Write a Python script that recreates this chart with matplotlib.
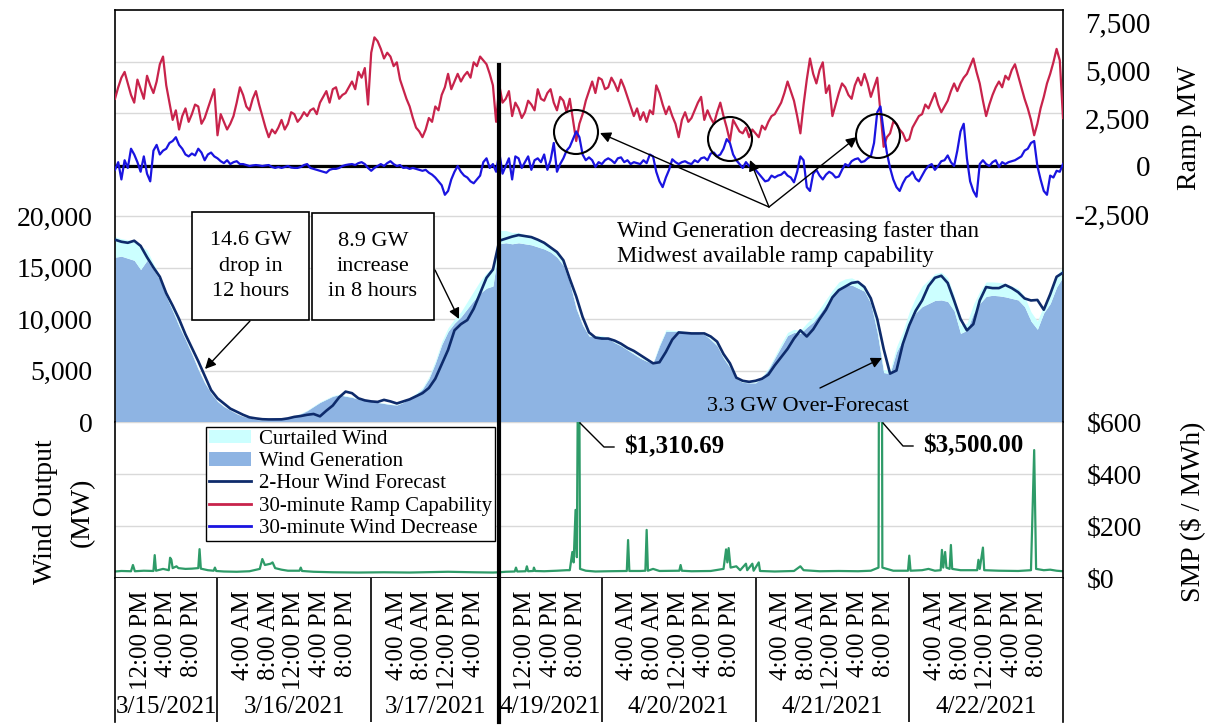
import numpy as np
import matplotlib
matplotlib.use("Agg")
import matplotlib.pyplot as plt
from matplotlib.lines import Line2D
from matplotlib.patches import Patch, Rectangle, Ellipse, FancyArrowPatch
from matplotlib.transforms import IdentityTransform, blended_transform_factory

plt.rcParams['font.family'] = ['Liberation Serif', 'DejaVu Serif']

# ---------------- data ----------------
# hourly index 0..59  : 3/15 08:00 .. 3/17 19:00
# hourly index 60..148: 4/19 08:00 .. 4/23 00:00
wind_gen_mar = [16000, 16100, 15900, 15700, 14800, 15700, 14800, 13800, 12200, 10800,
                9300, 8000, 6600, 5100, 3800, 2800, 2000, 1500, 1150, 800,
                550, 400, 250, 200, 220, 260, 300, 450, 600, 800,
                1100, 1500, 1900, 2200, 2500, 2650, 2500, 2400, 2200, 2100,
                2000, 1900, 1800, 1700, 1650, 1900, 2300, 2700, 3200, 4200,
                5700, 7500, 8800, 9600, 10200, 11000, 11800, 12500, 13000, 13200]
wind_gen_apr = [17300, 17400, 17300, 17400, 17300, 17200, 17000, 16800, 16500, 16000,
                15200, 13500, 11000, 9400, 8350, 8280, 8300, 8100, 7700, 7400,
                7000, 6600, 6200, 5900, 5700, 7400, 8800, 8800, 8770, 8700,
                8650, 8600, 8500, 8000, 7400, 6200, 5300, 4200, 3850, 3800,
                3800, 4300, 5100, 6200, 7300, 8400, 8700, 8600, 9200, 9700,
                10500, 11400, 12200, 12900, 13200, 13300, 13000, 12700, 11500, 8700,
                4800, 4700, 6800, 8000, 9500, 10600, 11200, 11500, 11800, 11850,
                11700, 10800, 8600, 8900, 10500, 11500, 12200, 12300, 12250, 12150,
                12000, 11850, 11200, 9800, 9000, 10600, 11500, 13100, 14100]

curtailed_mar = [2000, 1700, 1800, 1800, 2300, 1000, 600, 400, 300, 200,
                 150, 100, 100, 100, 80, 60, 50, 40, 30, 20,
                 20, 20, 20, 20, 20, 20, 20, 20, 30, 40,
                 50, 60, 60, 60, 60, 60, 60, 50, 50, 50,
                 50, 50, 50, 50, 50, 60, 80, 100, 150, 200,
                 250, 300, 350, 400, 500, 700, 900, 1200, 1500, 1800]
curtailed_apr = [1300, 1200, 1100, 1000, 900, 900, 800, 700, 500, 400,
                 300, 200, 150, 100, 100, 100, 100, 100, 100, 100,
                 100, 100, 100, 100, 100, 150, 150, 100, 100, 100,
                 100, 100, 100, 100, 150, 150, 100, 100, 100, 100,
                 100, 100, 150, 200, 300, 300, 300, 300, 400, 500,
                 500, 500, 600, 700, 700, 700, 700, 600, 500, 400,
                 300, 300, 500, 800, 1200, 1500, 2000, 2300, 2600, 2700,
                 2300, 1500, 800, 700, 900, 1200, 1400, 1300, 1300, 1300,
                 1200, 1100, 1000, 900, 800, 700, 900, 1100, 1000]

forecast_mar = [17700, 17500, 17400, 17600, 17100, 16000, 15000, 14100, 12500, 11300,
                10000, 8500, 7200, 5900, 4500, 3100, 2300, 1800, 1300, 1000,
                700, 450, 350, 270, 250, 260, 260, 350, 500, 580,
                700, 780, 550, 1100, 1600, 2400, 2950, 2800, 2300, 2100,
                2000, 1950, 2150, 2000, 1800, 2000, 2200, 2500, 2800, 3300,
                4200, 5600, 7000, 8900, 9500, 9900, 11000, 12500, 14000, 14800]
forecast_apr = [17600, 17800, 18000, 18150, 18050, 17950, 17700, 17400, 16950, 16500,
                15700, 13900, 12200, 10200, 8700, 8200, 8100, 8100, 7900, 7600,
                7200, 6900, 6500, 6100, 5700, 5800, 6800, 8000, 8700, 8650,
                8600, 8600, 8600, 8300, 7800, 6600, 5700, 4300, 4000, 3900,
                4000, 4200, 4600, 5500, 6300, 7100, 8100, 8900, 8300, 9000,
                10000, 10900, 12100, 12800, 13150, 13500, 13600, 13100, 12000, 10000,
                7100, 4700, 5000, 7600, 9400, 10800, 11800, 13200, 14000, 14200,
                13500, 11800, 10000, 8900, 9500, 11800, 13100, 13000, 13000, 13300,
                13000, 12600, 12000, 11800, 11850, 10900, 12400, 14100, 14500]

# half-hourly samples (index 0, 0.5, 1, ... 148)
ramp_cap = [3500, 4100, 4600, 4900, 4300, 3700, 3300, 4500, 4000, 3500,
            4700, 4200, 3800, 4400, 5300, 5700, 4200, 3300, 2400, 2900,
            1900, 2600, 3000, 2300, 2700, 3200, 3100, 2200, 2500, 3000,
            3500, 4000, 1600, 2700, 2300, 1900, 2200, 2600, 3300, 4100,
            3700, 3100, 2900, 3500, 3900, 3200, 2600, 2000, 1500, 1900,
            1700, 2000, 2400, 1900, 2200, 2800, 2700, 2300, 2500, 2800,
            2600, 2900, 3000, 2700, 3300, 3600, 3900, 3300, 4000, 4100,
            3500, 3700, 3800, 4100, 4400, 4000, 4900, 4600, 5100, 3200,
            5900, 6700, 6500, 6100, 5600, 5900, 5700, 5200, 5400, 4500,
            4000, 3500, 3100, 2500, 2000, 1800, 1500, 1900, 2500, 2300,
            3100, 2900, 3700, 4100, 4800, 4000, 4400, 4800, 4400, 4700,
            4900, 4600, 5400, 5200, 5700, 5500, 5300, 4800, 4200, 2300,
            4200, 3300, 3500, 3900, 2600, 3300, 3000, 2500, 2800, 3400,
            3200, 2900, 4000, 3500, 3400, 3800, 4000, 3300, 2900, 3600,
            3400, 2800, 3500, 2400, 1300, 2200, 2700, 3400, 3900, 4400,
            3800, 4600, 4500, 4000, 4100, 4600, 4300, 3900, 4500, 4100,
            3600, 3100, 2600, 3000, 2400, 2800, 2300, 2900, 2700, 4200,
            3800, 3200, 2700, 3100, 2600, 2200, 1500, 2400, 2800, 2300,
            2500, 2900, 3300, 3600, 2400, 2900, 2500, 2200, 2800, 3300,
            2600, 2000, 1300, 2400, 2100, 1800, 1700, 2000, 1500, 1900,
            1700, 1500, 2100, 1900, 2300, 2600, 2700, 3000, 3300, 3800,
            4400, 3900, 3400, 2600, 1700, 3200, 4500, 5600, 4800, 4300,
            5000, 5400, 3800, 4200, 2600, 3200, 3800, 4300, 4100, 3700,
            3500, 4200, 4600, 4200, 4800, 4300, 3600, 4100, 4600, 2800,
            1000, 1500, 1700, 2300, 2200, 1900, 1700, 1300, 1400, 2000,
            2300, 2600, 2700, 3200, 3000, 3400, 3800, 3200, 2800, 3100,
            3400, 3900, 4300, 3900, 4300, 4600, 4800, 5200, 5600, 4900,
            4300, 3400, 2600, 3200, 3700, 4100, 4400, 4100, 4700, 4500,
            5000, 5300, 4700, 4100, 3500, 3000, 2400, 1600, 2200, 3000,
            3600, 4300, 4800, 5400, 6100, 5500, 2500]

wind_decrease = [-200, 200, -700, 300, -100, 900, 600, 200, -300, 500,
                 -400, -800, 800, 1100, 600, 800, 900, 1200, 1300, 1500,
                 1100, 900, 600, 500, 650, 550, 900, 700, 300, 600,
                 700, 500, 400, 250, 150, 300, 100, 200, 250, 100,
                 100, 50, 0, 30, 50, 30, 0, 30, 50, -50,
                 -100, -50, -100, -50, 0, -80, -100, -100, -50, 50,
                 100, -100, -150, -200, -250, -300, -350, -200, -150, -150,
                 -100, 0, 50, 80, 100, 50, 150, 200, 100, -100,
                 -250, -100, 0, 100, 0, 150, 250, 100, 0, 50,
                 -100, -80, -150, -100, -150, -200, -250, -200, -350, -450,
                 -600, -800, -1000, -1500, -1300, -700, -300, 0, -300, -500,
                 -600, -800, -900, -700, -500, 200, 400, -100, 100, -300,
                 700, -400, 0, 400, -700, 500, 400, -100, 200, 500,
                 -200, 300, 400, 200, 600, -200, 300, 1200, -300, 100,
                 400, 800, 1000, 1400, 1800, 1500, 600, 300, 450, 300,
                 -50, 200, 100, 300, 400, 300, 150, 400, 450, 200,
                 300, 100, 200, 150, 100, 300, 150, 600, 500, -300,
                 -800, -1100, -600, -200, 350, 200, 100, 200, 250, 150,
                 100, 300, 200, 400, 450, 300, 650, 700, 500, 600,
                 900, 1400, 1200, 600, 300, 100, -100, 200, 0, -100,
                 -200, -400, -600, -800, -750, -500, -600, -500, -450, -300,
                 -500, -600, -850, -300, 500, 300, -1100, -1300, -400, -200,
                 -500, -700, -450, -300, -400, -600, -550, -200, 100, 0,
                 250, 350, 400, 200, 250, 400, 500, 1200, 2800, 3100,
                 1800, 700, -100, -700, -1100, -1300, -900, -600, -500, -300,
                 -650, -800, -500, -200, 0, 100, -200, 0, 250, 300,
                 550, 200, 0, 800, 1800, 2200, 400, -800, -1300, -1600,
                 100, 300, 100, 0, 200, 300, -50, 200, 100, 200,
                 250, 300, 400, 500, 800, 900, 1200, 1300, 0, -700,
                 -1300, -1500, -500, -600, -250, -300, 100]

# SMP ($/MWh), sample times in the same hourly index
smp_hours = [0, 1, 2.5, 2.8, 3.1, 4.5, 6.0, 6.2, 6.4, 7.5, 8.4, 8.6, 8.8, 9.0, 9.6, 9.9,
             11, 12, 13.0, 13.2, 13.4, 14.5, 15.4, 15.6, 15.8, 17, 19, 21, 22.6, 23.0,
             23.4, 24.3, 24.6, 25, 26, 27, 28.8, 29, 29.2, 31, 34, 38, 42, 46, 50, 52,
             56, 59,
             60, 61, 62.4, 62.6, 62.8, 64.1, 64.3, 64.5, 65.3, 65.4, 65.6, 67, 69, 70.5,
             71.0, 71.4, 71.6, 71.9, 72.1, 72.4, 72.6, 73.5, 75, 77, 79.9, 80.1, 80.3,
             82, 82.8, 83.0, 83.2, 84, 85, 88.1, 88.3, 88.5, 90, 93, 95.0, 95.4, 95.6,
             95.8, 96.1, 97, 97.6, 98.5, 98.7, 99.5, 99.7, 100.5, 100.7, 103, 106, 107,
             107.5, 110, 113, 116, 118, 119.2, 119.5, 119.8, 120.5, 121.5, 123.8, 124.0,
             124.2, 126, 127, 128, 128.9, 129.1, 129.3, 129.6, 129.8, 130.3, 130.5,
             130.7, 132, 134.6, 134.8, 135.0, 135.5, 135.7, 138, 141, 143.0, 143.5,
             143.8, 145, 146, 147, 148]
smp_values = [25, 27, 26, 50, 26, 28, 27, 88, 28, 35, 30, 78, 70, 38, 45, 38,
              35, 36, 38, 111, 36, 30, 28, 40, 27, 25, 24, 26, 35, 73,
              50, 55, 60, 38, 32, 28, 28, 40, 27, 24, 22, 21, 22, 21, 23, 24,
              22, 21,
              22, 24, 25, 40, 25, 26, 45, 26, 27, 40, 27, 26, 28, 30,
              30, 100, 60, 262, 80, 1310.69, 35, 28, 25, 26, 27, 146, 27,
              27, 28, 185, 28, 35, 27, 28, 50, 28, 26, 27, 35, 110, 60,
              115, 40, 45, 30, 55, 30, 55, 28, 60, 27, 25, 27, 45,
              30, 26, 27, 26, 28, 40, 3500.00, 40, 35, 28, 28, 86,
              28, 30, 35, 28, 30, 108, 40, 100, 40, 35, 127,
              35, 30, 30, 70, 35, 117, 30, 28, 27, 30, 492,
              35, 30, 32, 28, 26]

wind_ticks = [0, 5000, 10000, 15000, 20000]
ramp_ticks = [-2500, 0, 2500, 5000, 7500]
smp_ticks = [0, 200, 400, 600]

day_bounds = [0, 16, 40, 60, 76, 100, 124, 148]
day_labels = ["3/15/2021", "3/16/2021", "3/17/2021", "4/19/2021",
              "4/20/2021", "4/21/2021", "4/22/2021"]
time_tick_pos = [4, 8, 12, 20, 24, 28, 32, 36, 44, 48, 52, 56, 64, 68, 72,
                 80, 84, 88, 92, 96, 104, 108, 112, 116, 120, 128, 132, 136, 140, 144]
time_tick_labels = ["12:00 PM", "4:00 PM", "8:00 PM",
                    "4:00 AM", "8:00 AM", "12:00 PM", "4:00 PM", "8:00 PM",
                    "4:00 AM", "8:00 AM", "12:00 PM", "4:00 PM",
                    "12:00 PM", "4:00 PM", "8:00 PM",
                    "4:00 AM", "8:00 AM", "12:00 PM", "4:00 PM", "8:00 PM",
                    "4:00 AM", "8:00 AM", "12:00 PM", "4:00 PM", "8:00 PM",
                    "4:00 AM", "8:00 AM", "12:00 PM", "4:00 PM", "8:00 PM"]

# ---------------- styling ----------------
C_GEN = '#8EB4E3'
C_CURT = '#CCFFFF'
C_FC = '#0E2B6B'
C_RAMP = '#C8234B'
C_DEC = '#1A14E0'
C_SMP = '#2E9B68'
C_GRID = '#D9D9D9'

W, H = 1213, 725
fig = plt.figure(figsize=(W / 100, H / 100), dpi=100)

X0, X1 = 115, 1063
YT, YM, YB, YD = 10, 422, 578, 722


def fx(xp):
    return xp / W


def fy(yp):
    return 1 - yp / H


ax_w = fig.add_axes([fx(X0), fy(YM), fx(X1) - fx(X0), fy(YT) - fy(YM)])
ax_p = fig.add_axes([fx(X0), fy(YB), fx(X1) - fx(X0), fy(YM) - fy(YB)], sharex=ax_w)
ax_d = fig.add_axes([fx(X0), fy(YD), fx(X1) - fx(X0), fy(YB) - fy(YD)], sharex=ax_w)
ax_r = ax_w.twinx()

gen = np.array(wind_gen_mar + wind_gen_apr, dtype=float)
curt = np.array(curtailed_mar + curtailed_apr, dtype=float)
fc = np.array(forecast_mar + forecast_apr, dtype=float)
x = np.arange(len(gen))
x_half = np.arange(len(ramp_cap)) * 0.5

ax_w.set_xlim(0, day_bounds[-1])

# ---- wind panel ----
ax_w.set_ylim(0, 40000)
for v in range(5000, 40000, 5000):
    ax_w.axhline(v, color=C_GRID, lw=1.0, zorder=0.5)
ax_w.fill_between(x, 0, gen, color=C_GEN, lw=0, zorder=1)
ax_w.fill_between(x, gen, gen + curt, color=C_CURT, lw=0, zorder=1)
ax_w.plot(x, fc, color=C_FC, lw=1.9, zorder=3)
ax_w.set_yticks(wind_ticks)
ax_w.set_yticklabels([f"{v:,}" for v in wind_ticks])
ax_w.tick_params(axis='y', length=0, pad=16, labelsize=20)
ax_w.tick_params(axis='x', length=0, labelbottom=False)
for s in ['top', 'left', 'right']:
    ax_w.spines[s].set_linewidth(1.2)
ax_w.spines['bottom'].set_visible(False)

# ---- ramp axis ----
px_per_2500 = 48.0
ramp_top = (166 - YT) / px_per_2500 * 2500
ramp_bot = -(YM - 166) / px_per_2500 * 2500
ax_r.set_ylim(ramp_bot, ramp_top)
ax_r.axhline(0, color='black', lw=2.3, zorder=1)
ax_r.plot(x_half, ramp_cap, color=C_RAMP, lw=1.6, zorder=2)
ax_r.plot(x_half, wind_decrease, color=C_DEC, lw=1.6, zorder=2)
ax_r.set_yticks(ramp_ticks)
ax_r.set_yticklabels([f"{v:,}" for v in ramp_ticks], ha='right')
ax_r.tick_params(axis='y', length=0, pad=63, labelsize=21)
for s in ax_r.spines.values():
    s.set_visible(False)

# ---- SMP panel ----
ax_p.set_ylim(0, 600)
for v in [200, 400, 600]:
    ax_p.axhline(v, color=C_GRID, lw=1.0, zorder=0.5)
ax_p.plot(smp_hours, smp_values, color=C_SMP, lw=1.6, zorder=2)
ax_p.yaxis.tick_right()
ax_p.set_yticks(smp_ticks)
ax_p.set_yticklabels([f"${v}" for v in smp_ticks])
ax_p.tick_params(axis='y', length=0, pad=17, labelsize=20)
ax_p.tick_params(axis='x', length=0, labelbottom=False)
ax_p.spines['top'].set_visible(False)
for s in ['left', 'right', 'bottom']:
    ax_p.spines[s].set_linewidth(1.2)

# ---- date axis area ----
ax_d.set_ylim(0, 1)
ax_d.set_yticks([])
ax_d.tick_params(axis='x', length=0, labelbottom=False)
ax_d.spines['top'].set_visible(False)
ax_d.spines['bottom'].set_visible(False)
for s in ['left', 'right']:
    ax_d.spines[s].set_linewidth(1.2)
for b in day_bounds[1:-1]:
    if b != 60:
        ax_d.axvline(b, color='black', lw=1.2)
for p, lab in zip(time_tick_pos, time_tick_labels):
    ax_d.text(p, (YD - 590) / (YD - YB), lab, rotation=90, ha='center', va='top', fontsize=18)
for i, lab in enumerate(day_labels):
    mid = (day_bounds[i] + day_bounds[i + 1]) / 2
    ax_d.text(mid, (YD - 707) / (YD - YB), lab, ha='center', va='center', fontsize=18)

# thick separator between March and April
btrans = blended_transform_factory(ax_w.transData, fig.transFigure)
fig.add_artist(Line2D([60, 60], [fy(YD), fy(65)], transform=btrans, color='black', lw=3.0))

# ---- axis titles ----
fig.text(fx(64), fy(512), "Wind Output\n(MW)", rotation=90, ha='center', va='center',
         fontsize=20, linespacing=1.6)
fig.text(fx(1190), fy(128), "Ramp MW", rotation=90, ha='center', va='center', fontsize=20)
fig.text(fx(1192), fy(512), "SMP ($ / MWh)", rotation=90, ha='center', va='center', fontsize=20)

# ---- legend ----
handles = [Patch(facecolor=C_CURT, edgecolor='none', label='Curtailed Wind'),
           Patch(facecolor=C_GEN, edgecolor='none', label='Wind Generation'),
           Line2D([], [], color=C_FC, lw=2, label='2-Hour Wind Forecast'),
           Line2D([], [], color=C_RAMP, lw=2, label='30-minute Ramp Capability'),
           Line2D([], [], color=C_DEC, lw=2, label='30-minute Wind Decrease')]
leg = fig.legend(handles=handles, loc='upper left', bbox_to_anchor=(fx(206), fy(427)),
                 frameon=True, fancybox=False, edgecolor='black', framealpha=1,
                 fontsize=15, handlelength=2.0, handleheight=0.6, labelspacing=0.15,
                 borderpad=0.15, handletextpad=0.4, borderaxespad=0)
leg.get_frame().set_linewidth(1.0)

# ---- annotations ----
ident = IdentityTransform()


def P(xp, yp):
    return (xp, H - yp)


def arrow(p_from, p_to):
    fig.add_artist(FancyArrowPatch(
        P(*p_from), P(*p_to), transform=ident, arrowstyle='-|>', mutation_scale=16,
        lw=1.0, color='black', shrinkA=0, shrinkB=0))


for (bx0, by0, bx1, by1, txt) in [(192, 212, 309, 320, "14.6 GW\ndrop in\n12 hours"),
                                   (312, 213, 434, 320, "8.9 GW\nincrease\nin 8 hours")]:
    fig.add_artist(Rectangle(P(bx0, by1), bx1 - bx0, by1 - by0, transform=ident,
                             facecolor='white', edgecolor='black', lw=1.2, zorder=5))
    fig.text(fx((bx0 + bx1) / 2), fy((by0 + by1) / 2), txt, ha='center', va='center',
             fontsize=16, linespacing=1.45, zorder=6)

arrow((250, 321), (205, 369))
arrow((435, 270), (459, 319))

fig.text(fx(617), fy(244), "Wind Generation decreasing faster than\nMidwest available ramp capability",
         ha='left', va='center', fontsize=16.5, linespacing=1.22)
for cx, cy in [(576, 132), (730, 139), (878, 136)]:
    fig.add_artist(Ellipse(P(cx, cy), 44, 44, transform=ident, fill=False,
                           edgecolor='black', lw=1.5, zorder=6))
arrow((769, 207), (600, 133))
arrow((769, 207), (750, 160))
arrow((769, 207), (857, 137))

fig.text(fx(808), fy(406), "3.3 GW Over-Forecast", ha='center', va='center', fontsize=16)
arrow((820, 388), (882, 358))

for (sx, lx, tx, ty, txt) in [(580, 604, 624, 447, "$1,310.69"), (883, 903, 923, 446, "$3,500.00")]:
    fig.add_artist(Line2D([sx, lx, lx + 10], [H - 423, H - ty, H - ty], transform=ident,
                          color='black', lw=1.0))
    fig.text(fx(tx), fy(ty), txt, ha='left', va='center', fontsize=18, fontweight='bold')

fig.savefig("out.png", dpi=100)
